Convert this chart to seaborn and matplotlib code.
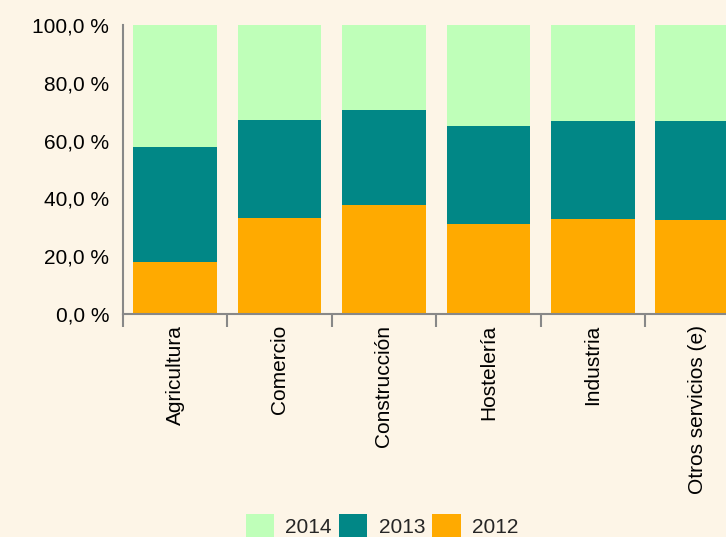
import numpy as np
import pandas as pd
import matplotlib
matplotlib.use('Agg')
import matplotlib.pyplot as plt
from matplotlib.ticker import FuncFormatter, FixedLocator
import seaborn as sns

sectores = ['Agricultura', 'Comercio', 'Construcción', 'Hostelería', 'Industria', 'Otros servicios (e)']
# reparto porcentual por año (cada sector suma 100)
pct_2012 = [18.1, 33.1, 37.6, 31.0, 32.7, 32.4]
pct_2013 = [39.6, 33.9, 32.9, 34.0, 34.0, 34.3]
pct_2014 = [42.3, 33.0, 29.5, 35.0, 33.3, 33.3]

colores = {'2014': '#bfffb9', '2013': '#018786', '2012': '#ffaa00'}
fondo = '#fdf5e7'
gris = '#888888'

sns.set_style('white')
plt.rcParams['font.family'] = ['Liberation Sans', 'DejaVu Sans']

df = pd.DataFrame({'sector': sectores, '2012': pct_2012, '2013': pct_2013, '2014': pct_2014})
df['acum_2012'] = df['2012']
df['acum_2013'] = df['2012'] + df['2013']
df['acum_2014'] = df['2012'] + df['2013'] + df['2014']

fig = plt.figure(figsize=(7.26, 5.37), dpi=100, facecolor=fondo)
ax = fig.add_axes([123 / 726, 1 - 314 / 537, 1 - 123 / 726, (314 - 25) / 537])
ax.set_facecolor(fondo)

# barras apiladas: se dibuja el acumulado de atrás hacia delante
for anio in ['2014', '2013', '2012']:
    sns.barplot(x='sector', y='acum_' + anio, data=df, color=colores[anio], saturation=1,
                width=0.8, linewidth=0, edgecolor='none', label=anio, ax=ax)

ax.set_xlabel('')
ax.set_ylabel('')

ax.yaxis.set_major_locator(FixedLocator([0, 20, 40, 60, 80, 100]))
ax.yaxis.set_major_formatter(FuncFormatter(lambda v, p: f'{v:.1f} %'.replace('.', ',')))
ax.tick_params(axis='y', length=9, width=1.5, color=gris, labelsize=15, pad=1, labelcolor='black')

ax.set_xticks(range(len(sectores)))
ax.set_xticklabels(sectores, rotation=90, va='top', ha='center')
ax.set_xticks(np.arange(-0.5, len(sectores), 1), minor=True)
ax.tick_params(axis='x', which='major', length=0, labelsize=15, pad=8, labelcolor='black')
ax.tick_params(axis='x', which='minor', length=9, width=1.5, color=gris, bottom=True)

# limites despues de los ticks (set_xticks amplía la vista)
ax.set_xlim(-0.5, -0.5 + (726 - 123) / 104.4)
ax.set_ylim(0, 100)

for lado in ['top', 'right']:
    ax.spines[lado].set_visible(False)
for lado in ['left', 'bottom']:
    ax.spines[lado].set_color(gris)
    ax.spines[lado].set_linewidth(1.5)

handles, labels = ax.get_legend_handles_labels()
if ax.legend_:
    ax.legend_.remove()
fig.legend(handles, labels, loc='center', bbox_to_anchor=(382 / 726, 1 - 526 / 537),
           ncol=3, frameon=False, fontsize=15, handlelength=1.35, handleheight=1.35,
           handletextpad=0.55, columnspacing=0.35)

fig.savefig('out.png', dpi=100, facecolor=fondo)
